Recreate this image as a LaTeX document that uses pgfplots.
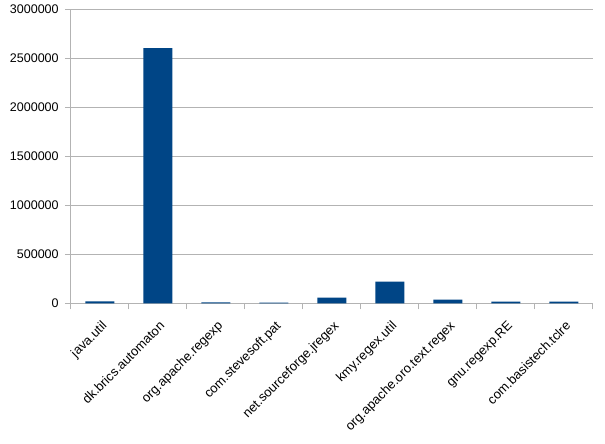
\documentclass[border=0pt]{standalone}
\usepackage{pgfplots}
\pgfplotsset{compat=1.18}
\usepackage{fontspec}
\setmainfont{Liberation Sans}
\definecolor{bar}{HTML}{004586}
\definecolor{gridc}{HTML}{B3B3B3}
\begin{document}
\fontsize{12.5}{14}\selectfont
\begin{tikzpicture}[x=1pt,y=1pt]
\path[use as bounding box] (-71,-140.7) rectangle (534,303.3);
\begin{axis}[
  at={(0,0)}, anchor=south west,
  scale only axis, width=522pt, height=294pt,
  ymin=0, ymax=3000000, ytick={0,500000,...,3000000},
  scaled y ticks=false,
  yticklabel style={/pgf/number format/fixed,/pgf/number format/1000 sep={}, font=\fontsize{12.5}{14}\selectfont},
  /pgf/number format/assume math mode=true,
  xmin=-0.5, xmax=8.5,
  xtick={0,...,8},
  xticklabels={java.util,dk.brics.automaton,org.apache.regexp,com.stevesoft.pat,net.sourceforge.jregex,kmy.regex.util,org.apache.oro.text.regex,gnu.regexp.RE,com.basistech.tclre},
  xticklabel style={rotate=45, anchor=north east, font=\fontsize{13}{15}\selectfont, inner sep=1pt, yshift=-7pt, xshift=-6pt},
  minor xtick={-0.5,0.5,...,8.5},
  major x tick style={draw=none},
  minor tick length=6pt,
  major tick length=6pt,
  tick align=outside,
  axis x line*=bottom, axis y line*=left,
  axis line style={gridc, line width=1pt, -},
  tick style={gridc, line width=1pt},
  ymajorgrids, grid style={gridc, line width=1pt},
  yticklabel style={xshift=-2pt},
]
\addplot[ybar, bar width=29pt, fill=bar, draw=none] coordinates {
(0,20000) (1,2605000) (2,10000) (3,6000) (4,58000) (5,221000) (6,37000) (7,17000) (8,17000)};
\end{axis}
\end{tikzpicture}
\end{document}
